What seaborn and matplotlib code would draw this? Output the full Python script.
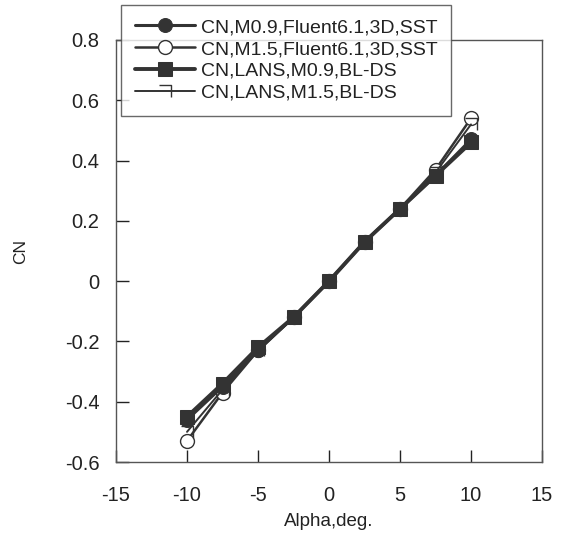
import numpy as np
import pandas as pd
import matplotlib
matplotlib.use("Agg")
import matplotlib.pyplot as plt
import seaborn as sns
from matplotlib.path import Path

alpha = [-10, -7.5, -5, -2.5, 0, 2.5, 5, 7.5, 10]
cn_m09_fluent = [-0.46, -0.35, -0.23, -0.12, 0.0, 0.13, 0.24, 0.35, 0.47]
cn_m15_fluent = [-0.53, -0.37, -0.23, -0.12, 0.0, 0.13, 0.24, 0.37, 0.54]
cn_lans_m09 = [-0.45, -0.34, -0.22, -0.12, 0.0, 0.13, 0.24, 0.35, 0.46]
cn_lans_m15 = [-0.50, -0.36, -0.23, -0.12, 0.0, 0.13, 0.24, 0.36, 0.52]
labels = ["CN,M0.9,Fluent6.1,3D,SST", "CN,M1.5,Fluent6.1,3D,SST",
          "CN,LANS,M0.9,BL-DS", "CN,LANS,M1.5,BL-DS"]
x_ticks = [-15, -10, -5, 0, 5, 10, 15]
y_ticks = [-0.6, -0.4, -0.2, 0, 0.2, 0.4, 0.6, 0.8]
y_ticklabels = ["-0.6", "-0.4", "-0.2", "0", "0.2", "0.4", "0.6", "0.8"]

sns.set_theme(style="white")
plt.rcParams['font.family'] = ['Liberation Sans', 'DejaVu Sans']

fig = plt.figure(figsize=(5.66, 5.42), dpi=100)
ax = fig.add_axes([116/566, 1-462/542, 426/566, 422/542])

tick_marker = Path([(-0.6, 0.6), (0.6, 0.6), (0.6, -0.6)],
                   [Path.MOVETO, Path.LINETO, Path.LINETO])

C = '#333333'
series = [cn_m09_fluent, cn_m15_fluent, cn_lans_m09, cn_lans_m15]
styles = [
    dict(marker='o', markersize=10, markerfacecolor=C, markeredgecolor=C, linewidth=2.2),
    dict(marker='o', markersize=10, markerfacecolor='white', markeredgecolor=C, markeredgewidth=1.0, linewidth=1.8),
    dict(marker='s', markersize=10, markerfacecolor=C, markeredgecolor=C, linewidth=2.8),
    dict(marker=tick_marker, markersize=9, markerfacecolor='none', markeredgecolor=C, markeredgewidth=1.0, linewidth=1.4),
]
order = [1, 3, 0, 2]
for i in order:
    df = pd.DataFrame({"Alpha": alpha, "CN": series[i]})
    sns.lineplot(data=df, x="Alpha", y="CN", ax=ax, color=C, label=labels[i], **styles[i])

ax.set_xlim(-15, 15)
ax.set_ylim(-0.6, 0.8)
ax.set_xticks(x_ticks)
ax.set_xticklabels([str(t) for t in x_ticks])
ax.set_yticks(y_ticks)
ax.set_yticklabels(y_ticklabels)
ax.tick_params(direction='in', length=9, width=1, colors='#222222', labelsize=14.5,
               bottom=True, left=True, top=False, right=False)
ax.tick_params(axis='x', pad=17)
ax.tick_params(axis='y', pad=12)
for s in ax.spines.values():
    s.set_color('#555555')
    s.set_linewidth(1.0)
ax.set_xlabel("Alpha,deg.", fontsize=13.5, color='#222222', labelpad=6)
ax.set_ylabel("CN", fontsize=12.5, color='#222222', labelpad=26)

h, l = ax.get_legend_handles_labels()
hd = dict(zip(l, h))
leg = ax.legend([hd[lb] for lb in labels], labels, loc='upper left',
                bbox_to_anchor=(121/566, 1-5/542), bbox_transform=fig.transFigure,
                frameon=True, fancybox=False, edgecolor='#444444', fontsize=14,
                handlelength=3.1, handletextpad=0.3, labelspacing=0.22,
                borderpad=0.7, borderaxespad=0)
leg.get_frame().set_linewidth(1.0)
for t in leg.get_texts():
    t.set_color('#222222')

fig.savefig("out.png", dpi=100, facecolor='white')
